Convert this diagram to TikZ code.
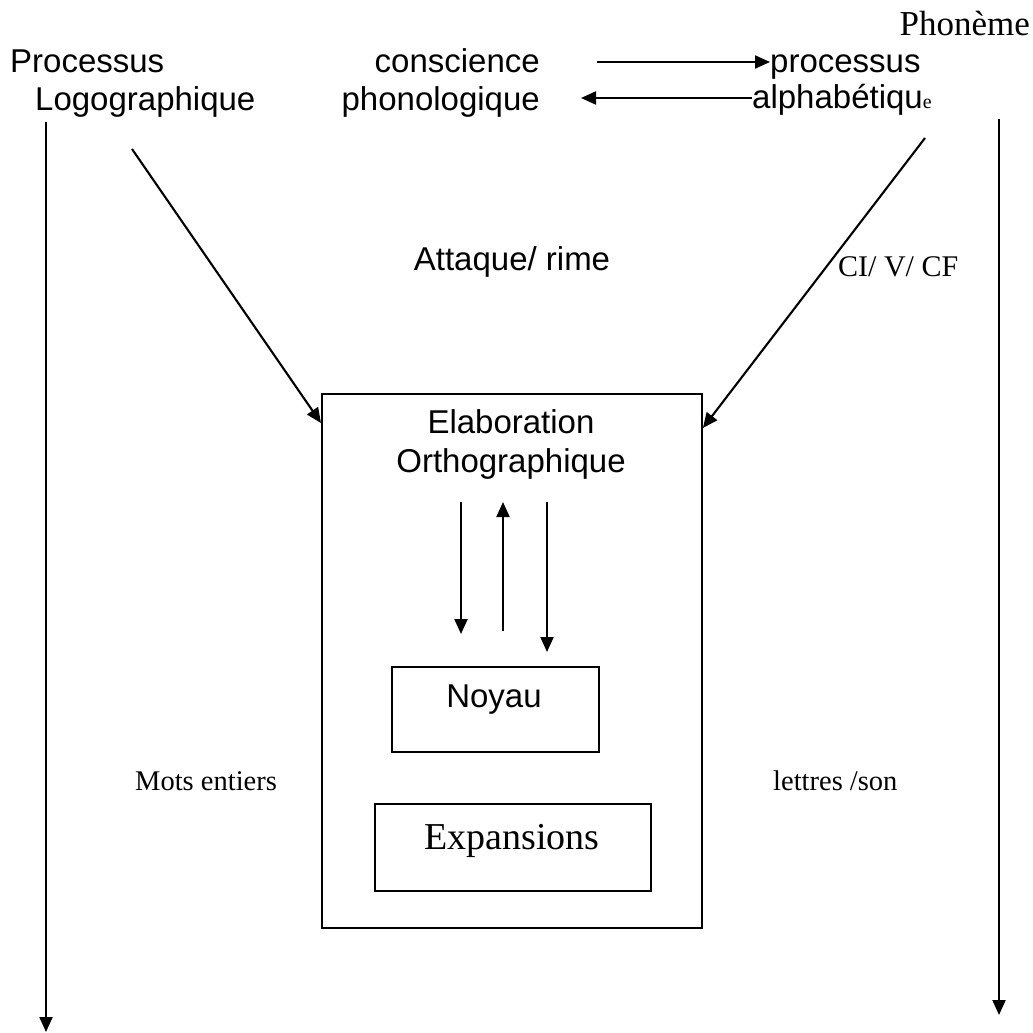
\documentclass[tikz,border=0pt]{standalone}
\usepackage{fontspec}
\setmainfont{Liberation Serif}
\newfontfamily\arialfont{Liberation Sans}
\usetikzlibrary{arrows.meta}
\tikzset{
  sans/.style={font=\arialfont\fontsize{33}{38}\selectfont, inner sep=0pt},
  serif/.style={font=\fontsize{28.5}{34}\selectfont, inner sep=0pt},
  ciserif/.style={font=\fontsize{30}{34}\selectfont, inner sep=0pt},
  bigserif/.style={font=\fontsize{38}{44}\selectfont, inner sep=0pt},
  phon/.style={font=\fontsize{35}{40}\selectfont, inner sep=0pt},
  frame/.style={draw, line width=1.9pt, inner sep=0pt},
  arr/.style={line width=2.1pt, -{Triangle[width=13pt,length=15pt]}}
}
\begin{document}
\begin{tikzpicture}[x=1pt,y=-1pt]
\useasboundingbox (0,0) rectangle (1033,1033);
% top texts
\node[phon, anchor=base east] (phoneme) at (1030,36) {Phonème};
\node[sans, anchor=base west] (proc) at (10,72) {Processus};
\node[sans, anchor=base west] (logo) at (35,110) {Logographique};
\node[sans, anchor=base east] (consc) at (540,72) {conscience};
\node[sans, anchor=base east] (phono) at (540,110) {phonologique};
\node[sans, anchor=base west] (procA) at (770,72) {processus};
\node[sans, anchor=base west] (alpha) at (752,108) {alphabétiqu{\fontspec{Liberation Serif}\fontsize{20}{20}\selectfont e}};
% horizontal arrows
\coordinate (r1s) at (597,62);
\coordinate (r1e) at (770,62);
\coordinate (l1s) at (752,98);
\coordinate (l1e) at (581,98);
\draw[arr] (r1s) -- (r1e);
\draw[arr] (l1s) -- (l1e);
% long vertical arrows
\coordinate (lvs) at (46,122);
\coordinate (lve) at (46,1032);
\coordinate (rvs) at (999,119);
\coordinate (rve) at (999,1015);
\draw[arr] (lvs) -- (lve);
\draw[arr] (rvs) -- (rve);
% middle labels
\node[sans, anchor=base] (attaque) at (512,270) {Attaque/ rime};
\node[ciserif, anchor=base west] (ci) at (838,276) {CI/ V/ CF};
\node[serif, anchor=base west] (mots) at (135,790) {Mots entiers};
\node[serif, anchor=base west] (lettres) at (773,790) {lettres /son};
% main box
\node[frame, minimum width=380pt, minimum height=534pt, anchor=north west] (elab) at (321,393) {};
\node[sans, anchor=base] (elab1) at (511,433) {Elaboration};
\node[sans, anchor=base] (elab2) at (511,472) {Orthographique};
% diagonal arrows
\coordinate (dls) at (132,149);
\coordinate (drs) at (925,138);
\draw[arr] (dls) -- ([yshift=-30pt]elab.north west);
\draw[arr] (drs) -- ([yshift=-35pt]elab.north east);
% inner boxes
\node[frame, minimum width=207pt, minimum height=85pt, anchor=north west] (noyau) at (391,666) {};
\node[sans, anchor=base] (noyautxt) at (494,707) {Noyau};
\node[frame, minimum width=276pt, minimum height=87pt, anchor=north west] (expan) at (374,803) {};
\node[bigserif, anchor=base] (expantxt) at (512,849) {Expansions};
% inner arrows
\coordinate (a1s) at (461,502);
\coordinate (a1e) at (461,634);
\coordinate (a2s) at (503,631);
\coordinate (a2e) at (503,502);
\coordinate (a3s) at (547,502);
\coordinate (a3e) at (547,652);
\draw[arr] (a1s) -- (a1e);
\draw[arr] (a2s) -- (a2e);
\draw[arr] (a3s) -- (a3e);
\end{tikzpicture}
\end{document}
